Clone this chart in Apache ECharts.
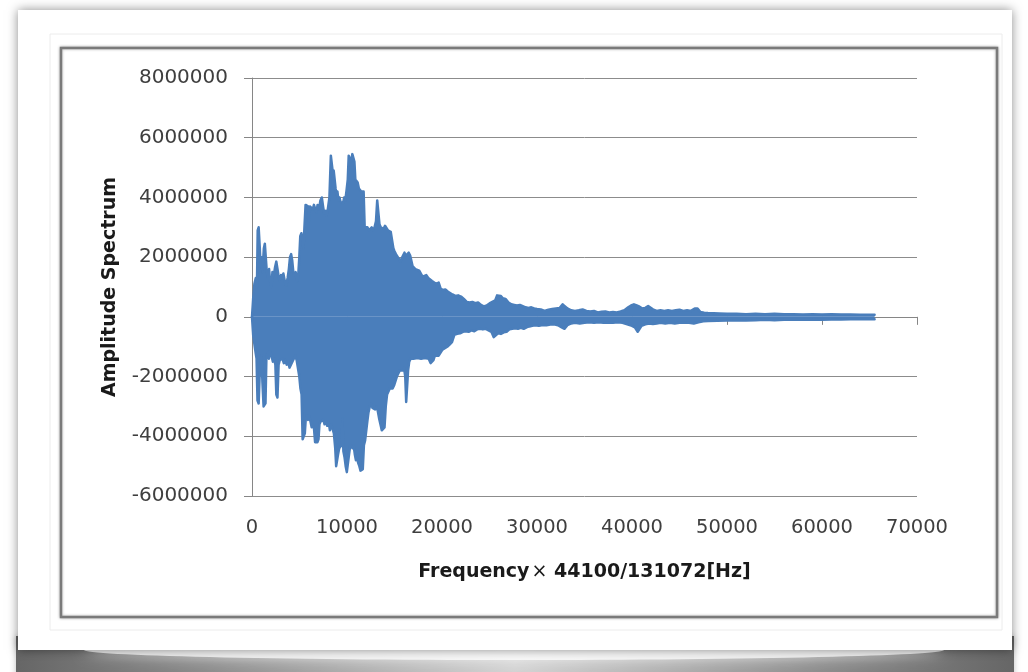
<!DOCTYPE html>
<html>
<head>
<meta charset="utf-8">
<script src="https://cdn.jsdelivr.net/npm/echarts@6/dist/echarts.min.js"></script>
<style>
html,body{margin:0;padding:0;background:#ffffff;}
#chart{width:1028px;height:672px;}
</style>
</head>
<body>
<div id="chart"></div>
<script>
// ---- axis settings / labels ----
const yMin = -6000000, yMax = 8000000, yStep = 2000000;
const xMin = 0, xMax = 70000, xStep = 10000;
const yTitle = 'Amplitude Spectrum';
const xTitleParts = ['Frequency', '×', ' 44100/131072[Hz]'];

// ---- data: upper and lower envelope of the amplitude spectrum [frequency bin, amplitude] ----
const upperEnvelope = [
[0,0],[120,0.6e6],[250,1.1e6],[400,1.3e6],[520,1.0e6],[600,2.9e6],[700,3.0e6],[820,2.3e6],[900,1.7e6],[1000,2.0e6],
[1100,1.5e6],[1250,2.3e6],[1350,2.45e6],[1480,2.4e6],[1560,1.5e6],[1680,1.3e6],[1800,1.6e6],[1900,1.2e6],[2050,1.0e6],[2150,1.5e6],
[2300,1.4e6],[2420,1.65e6],[2560,1.85e6],[2680,1.9e6],[2780,1.4e6],[2900,1.2e6],[3050,1.4e6],[3150,1.3e6],[3300,1.45e6],[3450,1.2e6],
[3600,1.05e6],[3750,1.3e6],[3880,1.6e6],[4000,2.0e6],[4120,2.1e6],[4230,1.9e6],[4350,1.5e6],[4480,1.4e6],[4600,1.5e6],[4720,1.2e6],
[4850,1.3e6],[4980,2.0e6],[5080,2.7e6],[5200,2.8e6],[5320,2.6e6],[5420,2.3e6],[5520,3.0e6],[5640,3.75e6],[5780,3.8e6],[5900,3.7e6],
[6000,3.2e6],[6100,3.7e6],[6250,3.75e6],[6400,3.6e6],[6520,3.75e6],[6650,3.7e6],[6780,3.5e6],[6900,3.75e6],[7050,3.6e6],[7200,3.9e6],
[7350,4.0e6],[7480,3.7e6],[7600,3.45e6],[7720,3.55e6],[7850,3.4e6],[7980,3.6e6],[8150,4.0e6],[8300,5.4e6],[8420,5.35e6],[8520,4.8e6],
[8600,4.9e6],[8700,4.95e6],[8800,4.3e6],[8900,4.1e6],[8990,4.2e6],[9100,3.9e6],[9200,4.0e6],[9320,3.85e6],[9450,3.9e6],[9580,3.8e6],
[9700,4.0e6],[9820,3.9e6],[9940,4.2e6],[10080,4.6e6],[10180,5.4e6],[10300,5.3e6],[10420,5.2e6],[10560,5.45e6],[10680,5.5e6],[10780,5.2e6],
[10880,4.6e6],[11000,4.55e6],[11120,4.5e6],[11250,4.3e6],[11380,4.35e6],[11500,4.2e6],[11620,4.15e6],[11750,4.2e6],[11860,3.0e6],[12000,2.95e6],
[12150,3.0e6],[12300,2.9e6],[12450,2.95e6],[12600,3.0e6],[12750,2.9e6],[12900,3.0e6],[13050,3.2e6],[13180,3.9e6],[13300,3.9e6],[13420,3.1e6],
[13550,3.0e6],[13700,3.05e6],[13850,2.95e6],[14000,3.05e6],[14150,3.0e6],[14300,2.9e6],[14450,2.95e6],[14600,2.85e6],[14750,2.9e6],[14880,2.3e6],
[15000,2.2e6],[15150,2.1e6],[15300,2.15e6],[15450,1.95e6],[15600,1.85e6],[15750,1.8e6],[15900,2.05e6],[16050,2.15e6],[16200,2.05e6],[16350,2.1e6],
[16500,2.15e6],[16650,2.05e6],[16800,2.1e6],[16900,1.7e6],[17050,1.65e6],[17200,1.6e6],[17400,1.65e6],[17600,1.55e6],[17800,1.5e6],[17950,1.35e6],
[18150,1.3e6],[18350,1.4e6],[18550,1.3e6],[18750,1.25e6],[18950,1.2e6],[19150,1.15e6],[19400,1.1e6],[19650,1.15e6],[19850,0.95e6],[20100,0.9e6],
[20350,0.92e6],[20600,0.85e6],[20850,0.8e6],[21100,0.75e6],[21400,0.7e6],[21700,0.72e6],[22000,0.68e6],[22300,0.6e6],[22600,0.5e6],[22900,0.48e6],
[23200,0.5e6],[23500,0.46e6],[23800,0.48e6],[24100,0.4e6],[24400,0.35e6],[24700,0.38e6],[25000,0.45e6],[25300,0.5e6],[25600,0.55e6],[25800,0.72e6],
[26000,0.77e6],[26200,0.7e6],[26400,0.62e6],[26700,0.6e6],[27000,0.48e6],[27300,0.42e6],[27600,0.4e6],[27900,0.38e6],[28200,0.4e6],[28500,0.36e6],
[28800,0.32e6],[29100,0.3e6],[29400,0.32e6],[29700,0.28e6],[30000,0.26e6],[30400,0.25e6],[30800,0.2e6],[31200,0.24e6],[31600,0.26e6],[32000,0.28e6],
[32400,0.3e6],[32700,0.42e6],[32900,0.43e6],[33200,0.28e6],[33600,0.22e6],[34000,0.2e6],[34400,0.22e6],[34800,0.25e6],[35200,0.2e6],[35600,0.18e6],
[36000,0.2e6],[36400,0.15e6],[36800,0.17e6],[37200,0.18e6],[37600,0.15e6],[38000,0.16e6],[38400,0.15e6],[38800,0.18e6],[39200,0.22e6],[39600,0.32e6],
[39900,0.38e6],[40200,0.42e6],[40500,0.38e6],[40800,0.34e6],[41100,0.28e6],[41400,0.3e6],[41700,0.36e6],[41900,0.37e6],[42200,0.25e6],[42600,0.2e6],
[43000,0.22e6],[43400,0.2e6],[43800,0.22e6],[44200,0.2e6],[44600,0.22e6],[45000,0.24e6],[45400,0.2e6],[45800,0.22e6],[46200,0.2e6],[46600,0.28e6],
[46900,0.28e6],[47200,0.16e6],[47600,0.14e6],[48000,0.13e6],[48600,0.12e6],[49200,0.11e6],[50000,0.1e6],[51000,0.1e6],[52000,0.09e6],[53000,0.1e6],
[54000,0.09e6],[55000,0.1e6],[56000,0.09e6],[57000,0.09e6],[58000,0.08e6],[59000,0.09e6],[60000,0.08e6],[61000,0.09e6],[62000,0.08e6],[63000,0.08e6],
[64000,0.07e6],[65000,0.07e6],[65536,0.07e6]
];
const lowerEnvelope = [
[0,0],[120,-0.6e6],[250,-0.9e6],[380,-1.2e6],[480,-1.4e6],[580,-2.8e6],[700,-2.9e6],[800,-2.0e6],[900,-1.5e6],[1000,-1.3e6],
[1100,-2.2e6],[1220,-3.0e6],[1330,-3.05e6],[1420,-2.9e6],[1520,-1.3e6],[1650,-1.2e6],[1780,-1.4e6],[1900,-1.15e6],[2050,-1.3e6],[2200,-1.5e6],
[2330,-1.4e6],[2460,-1.6e6],[2560,-2.6e6],[2680,-2.7e6],[2800,-1.6e6],[2920,-1.45e6],[3050,-1.5e6],[3200,-1.4e6],[3350,-1.55e6],[3500,-1.45e6],
[3650,-1.6e6],[3800,-1.5e6],[3950,-1.7e6],[4100,-1.65e6],[4250,-1.5e6],[4400,-1.4e6],[4550,-1.3e6],[4700,-1.45e6],[4850,-1.4e6],[4980,-2.0e6],
[5100,-2.4e6],[5220,-2.6e6],[5330,-4.1e6],[5450,-4.15e6],[5560,-3.9e6],[5660,-3.4e6],[5780,-3.3e6],[5900,-3.45e6],[6020,-3.3e6],[6150,-3.5e6],
[6280,-3.7e6],[6400,-3.6e6],[6530,-3.75e6],[6640,-4.2e6],[6760,-4.25e6],[6880,-4.2e6],[7000,-4.1e6],[7100,-3.6e6],[7230,-3.5e6],[7360,-3.55e6],
[7500,-3.45e6],[7640,-3.6e6],[7780,-3.5e6],[7920,-3.65e6],[8060,-3.5e6],[8200,-3.8e6],[8340,-3.6e6],[8480,-3.75e6],[8620,-3.9e6],[8760,-4.4e6],
[8860,-5.0e6],[8960,-5.05e6],[9060,-4.6e6],[9180,-4.4e6],[9300,-4.45e6],[9420,-4.3e6],[9520,-3.4e6],[9620,-4.5e6],[9740,-4.7e6],[9860,-5.0e6],
[9980,-5.2e6],[10100,-5.25e6],[10220,-4.6e6],[10340,-4.3e6],[10460,-4.25e6],[10580,-4.4e6],[10700,-4.3e6],[10820,-4.6e6],[10940,-4.8e6],[11060,-4.7e6],
[11180,-4.9e6],[11300,-5.0e6],[11420,-5.15e6],[11540,-5.2e6],[11660,-5.1e6],[11780,-4.3e6],[11900,-4.15e6],[12020,-4.1e6],[12140,-3.5e6],[12260,-3.2e6],
[12400,-3.0e6],[12540,-2.9e6],[12680,-3.05e6],[12820,-3.0e6],[12960,-3.1e6],[13100,-3.0e6],[13240,-3.15e6],[13380,-3.4e6],[13520,-3.6e6],[13660,-3.8e6],
[13800,-3.85e6],[13950,-3.7e6],[14080,-3.0e6],[14220,-2.6e6],[14360,-2.55e6],[14500,-2.4e6],[14650,-2.35e6],[14800,-2.4e6],[14950,-2.3e6],[15100,-2.35e6],
[15250,-2.0e6],[15400,-1.9e6],[15550,-1.8e6],[15700,-1.75e6],[15850,-1.8e6],[16000,-1.7e6],[16130,-2.0e6],[16230,-2.85e6],[16330,-2.87e6],[16430,-1.8e6],
[16550,-1.5e6],[16700,-1.4e6],[16850,-1.36e6],[17000,-1.4e6],[17200,-1.35e6],[17400,-1.38e6],[17600,-1.36e6],[17800,-1.4e6],[18000,-1.35e6],[18200,-1.38e6],
[18400,-1.35e6],[18600,-1.4e6],[18800,-1.55e6],[18950,-1.6e6],[19100,-1.45e6],[19250,-1.3e6],[19450,-1.28e6],[19650,-1.3e6],[19850,-1.2e6],[20050,-1.1e6],
[20300,-1.05e6],[20550,-1.0e6],[20800,-0.93e6],[21050,-0.85e6],[21300,-0.6e6],[21600,-0.57e6],[21900,-0.55e6],[22200,-0.5e6],[22500,-0.48e6],[22800,-0.5e6],
[23100,-0.45e6],[23400,-0.48e6],[23700,-0.42e6],[24000,-0.4e6],[24300,-0.42e6],[24600,-0.4e6],[24900,-0.45e6],[25200,-0.5e6],[25450,-0.68e6],[25650,-0.7e6],
[25900,-0.55e6],[26200,-0.57e6],[26500,-0.52e6],[26800,-0.5e6],[27100,-0.42e6],[27400,-0.4e6],[27700,-0.38e6],[28000,-0.4e6],[28300,-0.37e6],[28600,-0.4e6],
[28900,-0.35e6],[29200,-0.32e6],[29500,-0.3e6],[29800,-0.28e6],[30200,-0.3e6],[30600,-0.27e6],[31000,-0.28e6],[31400,-0.26e6],[31800,-0.25e6],[32200,-0.28e6],
[32600,-0.35e6],[32900,-0.4e6],[33200,-0.28e6],[33600,-0.22e6],[34000,-0.2e6],[34500,-0.22e6],[35000,-0.2e6],[35500,-0.18e6],[36000,-0.2e6],[36500,-0.18e6],
[37000,-0.2e6],[37500,-0.19e6],[38000,-0.2e6],[38500,-0.18e6],[39000,-0.2e6],[39500,-0.25e6],[40000,-0.3e6],[40300,-0.35e6],[40600,-0.5e6],[40800,-0.5e6],
[41000,-0.3e6],[41400,-0.25e6],[41800,-0.22e6],[42200,-0.24e6],[42600,-0.22e6],[43000,-0.2e6],[43500,-0.22e6],[44000,-0.2e6],[44500,-0.22e6],[45000,-0.2e6],
[45500,-0.19e6],[46000,-0.2e6],[46500,-0.22e6],[47000,-0.18e6],[47500,-0.15e6],[48000,-0.14e6],[49000,-0.13e6],[50000,-0.12e6],[51000,-0.11e6],[52000,-0.12e6],
[53000,-0.11e6],[54000,-0.1e6],[55000,-0.11e6],[56000,-0.1e6],[57000,-0.1e6],[58000,-0.1e6],[59000,-0.09e6],[60000,-0.1e6],[61000,-0.09e6],[62000,-0.09e6],
[63000,-0.08e6],[64000,-0.08e6],[65000,-0.08e6],[65536,-0.08e6]
];

// ---- styles ----
const BLUE = '#4a7ebb';
const AXIS_GRAY = '#868686';
const LABEL_COLOR = '#3f3f3f';
const FONT = 'DejaVu Sans';

const chart = echarts.init(document.getElementById('chart'), null, {renderer: 'canvas'});

function bandSeries(data) {
  return {
    type: 'line', xAxisIndex: 0, yAxisIndex: 0, data: data,
    symbol: 'none', silent: true, z: 3,
    lineStyle: {color: BLUE, width: 2.5, cap: 'round', join: 'round'},
    areaStyle: {color: BLUE, opacity: 1, origin: 'auto'}
  };
}

const option = {
  animation: false,
  backgroundColor: '#ffffff',
  graphic: [
    {type: 'rect', z: -100, silent: true, shape: {x: 16, y: 636, width: 998, height: 40},
     style: {fill: new echarts.graphic.LinearGradient(0, 0, 1, 0, [
        {offset: 0, color: '#666666'}, {offset: 0.2, color: '#8e8e8e'}, {offset: 0.5, color: '#d2d2d2'},
        {offset: 0.8, color: '#8e8e8e'}, {offset: 1, color: '#666666'}]),
        shadowBlur: 6, shadowColor: 'rgba(0,0,0,0.25)'}},
    {type: 'ellipse', z: -99, silent: true, shape: {cx: 514, cy: 650, rx: 430, ry: 10},
     style: {fill: 'rgba(255,255,255,0.8)', shadowBlur: 14, shadowColor: 'rgba(255,255,255,0.9)'}},
    {type: 'rect', z: -98, silent: true, shape: {x: 18, y: 10, width: 994, height: 640},
     style: {fill: '#ffffff', shadowBlur: 10, shadowColor: 'rgba(0,0,0,0.45)'}},
    {type: 'rect', z: -97, silent: true, shape: {x: 50, y: 34, width: 952, height: 596},
     style: {fill: '#ffffff', stroke: '#ececec', lineWidth: 1}},
    {type: 'rect', z: -96, silent: true, shape: {x: 61, y: 48, width: 936, height: 569},
     style: {fill: '#ffffff', stroke: '#7a7a7a', lineWidth: 2.5, shadowBlur: 3, shadowColor: 'rgba(0,0,0,0.3)'}}
  ],
  grid: {left: 252, right: 111, top: 78, bottom: 176, containLabel: false},
  xAxis: [
    {
      type: 'value', min: xMin, max: xMax, interval: xStep, position: 'bottom',
      axisLine: {show: true, onZero: true, lineStyle: {color: AXIS_GRAY, width: 1}},
      axisTick: {show: true, length: 8, lineStyle: {color: AXIS_GRAY}},
      axisLabel: {show: false},
      splitLine: {show: false}
    },
    {
      type: 'value', min: xMin, max: xMax, interval: xStep, position: 'bottom',
      axisLine: {show: false, onZero: false},
      axisTick: {show: false},
      axisLabel: {show: true, margin: 22, fontSize: 19.5, fontFamily: FONT, color: LABEL_COLOR,
                  showMinLabel: true, showMaxLabel: true, formatter: v => String(v)},
      splitLine: {show: false},
      name: '{b|' + xTitleParts[0] + '}{m|' + xTitleParts[1] + '}{b|' + xTitleParts[2] + '}',
      nameLocation: 'middle', nameGap: 67,
      nameTextStyle: {
        rich: {
          b: {fontSize: 19, fontWeight: 'bold', fontFamily: FONT, color: '#1a1a1a'},
          m: {fontSize: 19, fontWeight: 'normal', fontFamily: FONT, color: '#1a1a1a', padding: [0, 0, 0, 2]}
        }
      }
    }
  ],
  yAxis: {
    type: 'value', min: yMin, max: yMax, interval: yStep,
    axisLine: {show: true, onZero: false, lineStyle: {color: AXIS_GRAY, width: 1}},
    axisTick: {show: true, length: 8, lineStyle: {color: AXIS_GRAY}},
    axisLabel: {margin: 24, fontSize: 20, fontFamily: FONT, color: LABEL_COLOR, formatter: v => String(v)},
    splitLine: {show: true, lineStyle: {color: '#8c8c8c', width: 1}},
    name: yTitle, nameLocation: 'middle', nameGap: 132, nameRotate: 90,
    nameTextStyle: {fontSize: 19, fontWeight: 'bold', fontFamily: FONT, color: '#1a1a1a'}
  },
  series: [bandSeries(upperEnvelope), bandSeries(lowerEnvelope)]
};
chart.setOption(option);
</script>
</body>
</html>
